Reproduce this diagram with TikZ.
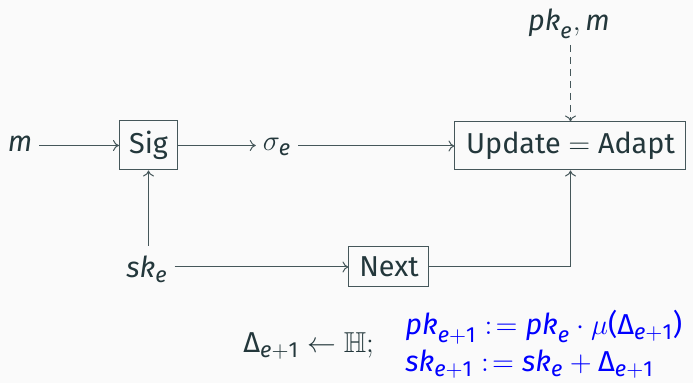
\documentclass[tikz,border=0pt]{standalone}
\usepackage{amsmath,amssymb}
\usepackage{fontspec}
\setmainfont{Fira Sans}
\DeclareMathSizes{14.4}{14.4}{10.95}{7}
\usetikzlibrary{arrows.meta}
\definecolor{mDark}{HTML}{23373B}
\definecolor{bgc}{HTML}{FAFAFA}
\definecolor{mLine}{HTML}{45575A}
\newcommand\mi[1]{\textit{#1}}
\newcommand\tx[1]{\textup{#1}}
\newcommand\defeq{\mathrel{:\mkern2mu=}}
\tikzset{
  lbl/.style={text=mDark, inner sep=0.333em},
  boxnode/.style={draw=mLine, line width=0.5pt, text=mDark, inner sep=0pt},
  conn/.style={draw=mLine, line width=0.5pt, -{Computer Modern Rightarrow[length=3pt,width=5.5pt]}},
  dconn/.style={conn, dash pattern=on 3.5pt off 2.5pt},
}
\begin{document}
\begin{tikzpicture}[x=0.5pt,y=-0.5pt,font=\fontsize{14.4}{17.5}\selectfont]
\fill[bgc] (0,0) rectangle (693,383);
\useasboundingbox (0,0) rectangle (693,383);

\node[lbl, anchor=base] (m) at (20,152) {$\mi{m}$};
\node[boxnode, minimum width=29pt, minimum height=24.5pt] (sig) at (148.5,145.5) {Sig};
\node[lbl, anchor=base] (sigma) at (277,151) {$\sigma_{\mi{e}}$};
\node[boxnode, minimum width=115.5pt, minimum height=24pt] (upd) at (570.5,146) {Update $=$ Adapt};
\node[lbl, anchor=base] (pkm) at (569,31) {$\mi{pk}_{\mi{e}}, \mi{m}$};
\node[lbl, anchor=base] (ske) at (147,278) {$\mi{sk}_{\mi{e}}$};
\node[boxnode, minimum width=40pt, minimum height=20pt] (next) at (389,267) {Next};

\coordinate (skup) at (148.5,246);
\coordinate (pkdn) at (570.5,45);

\draw[conn] (m.east |- sig.west) -- (sig.west);
\draw[conn] (sig.east) -- (sigma.west |- sig.east);
\draw[conn] (sigma.east |- upd.west) -- (upd.west);
\draw[dconn] (pkdn) -- (upd.north);
\draw[conn] (skup) -- (sig.south);
\draw[conn] (ske.east |- next.west) -- (next.west);
\draw[conn] (next.east) -| (upd.south);

\node[lbl, anchor=base west, inner sep=0pt] (delta) at (243,353)
  {$\tx{Δ}_{\mi{e}+\tx{1}} \leftarrow \mathbb{H};$};
\node[lbl, text=blue, anchor=base west, inner sep=0pt] (pkl) at (405,335)
  {$\mi{pk}_{\mi{e}+\tx{1}} \defeq \mi{pk}_{\mi{e}}\cdot\mu\tx{(}\tx{Δ}_{\mi{e}+\tx{1}}\tx{)}$};
\node[lbl, text=blue, anchor=base west, inner sep=0pt] (skl) at (405,372)
  {$\mi{sk}_{\mi{e}+\tx{1}} \defeq \mi{sk}_{\mi{e}} + \tx{Δ}_{\mi{e}+\tx{1}}$};
\end{tikzpicture}
\end{document}
